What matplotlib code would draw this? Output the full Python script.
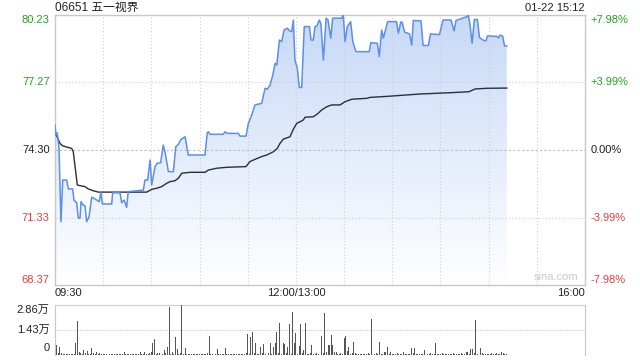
import numpy as np
import matplotlib
matplotlib.use('Agg')
import matplotlib.pyplot as plt
from matplotlib.patches import Polygon

plt.rcParams['font.family'] = ['Liberation Sans', 'Noto Sans CJK SC', 'DejaVu Sans']

# minutes since 09:30 (lunch break removed, 13:00 = 150)
price_t = [0, 0.6, 1.4, 2.5, 3.7, 4.8, 7.3, 8.3, 11.0, 11.8, 13.5, 14.5, 15.6, 16.2, 17.6, 18.7, 19.7, 21.2,
           22.9, 24.9, 27.6, 28.6, 29.5, 35.3, 35.9, 40.5, 41.5, 43.0, 44.6, 45.6, 49.8, 55.0, 56.0, 57.7,
           59.2, 60.2, 62.3, 63.7, 65.8, 67.4, 68.5, 70.6, 73.7, 75.2, 76.8, 78.5, 81.0, 83.0, 93.4, 94.8,
           95.5, 96.5, 104.8, 105.9, 107.3, 114.1, 115.2, 118.9, 120.4, 122.5, 124.5, 128.7, 130.8, 132.2,
           133.9, 135.6, 137.0, 138.1, 139.7, 141.2, 142.6, 144.7, 145.9, 147.4, 148.4, 149.4, 150.9, 152.1,
           153.6, 155.2, 158.4, 159.4, 160.8, 161.9, 163.0, 164.6, 165.6, 167.1, 168.8, 170.0, 171.7, 172.9,
           178.5, 179.5, 180.6, 182.0, 184.1, 185.4, 187.4, 195.7, 196.6, 200.7, 201.9, 203.4, 204.5, 207.1,
           212.6, 213.8, 215.3, 216.1, 217.7, 220.7, 222.1, 223.1, 227.9, 229.2, 232.5, 233.8, 239.4, 241.6,
           246.6, 248.5, 249.7, 256.6, 257.4, 258.4, 259.7, 261.1, 263.0, 264.3, 266.7, 268.4, 269.2, 275.2,
           276.0, 277.1, 278.8, 279.9, 281.3]
price = [75.40, 74.96, 75.05, 74.39, 71.15, 72.98, 72.98, 72.59, 72.59, 72.10, 71.98, 71.31, 71.31, 72.03,
         71.88, 71.84, 71.15, 71.37, 72.23, 72.15, 72.03, 72.47, 71.93, 71.93, 72.42, 72.42, 71.98, 72.10,
         71.78, 72.47, 72.50, 72.54, 72.98, 72.98, 73.86, 72.76, 73.57, 73.72, 73.74, 74.52, 74.22, 73.35,
         73.35, 74.44, 74.55, 74.77, 74.88, 74.08, 74.08, 75.06, 75.10, 74.99, 74.99, 75.10, 75.03, 75.03,
         74.91, 74.91, 75.47, 75.84, 76.28, 76.35, 77.01, 76.97, 77.15, 77.59, 78.11, 78.03, 79.13, 79.06,
         79.57, 79.65, 79.54, 79.50, 80.01, 78.25, 77.89, 77.05, 77.05, 79.72, 79.72, 79.13, 79.13, 79.72,
         79.75, 80.01, 79.83, 78.25, 80.09, 80.01, 79.21, 80.09, 80.09, 80.23, 79.06, 79.72, 79.94, 79.06,
         78.62, 78.62, 79.01, 78.99, 78.40, 79.57, 79.22, 79.94, 79.94, 79.43, 79.92, 79.92, 79.48, 79.40,
         78.91, 79.99, 79.97, 78.89, 78.89, 79.40, 79.37, 80.01, 80.01, 79.53, 79.99, 80.16, 80.23, 79.79,
         78.99, 80.03, 80.03, 79.24, 79.12, 79.10, 79.31, 79.29, 79.22, 79.35, 79.29, 78.87, 78.87]

avg_t = [0, 1.1, 3.1, 4.8, 10.4, 11.4, 12.5, 13.9, 16.6, 18.7, 20.7, 23.8, 27.0, 57.1, 60.2, 63.3, 66.4,
         69.6, 71.6, 74.7, 76.8, 78.9, 84.1, 93.4, 95.5, 100.7, 106.9, 118.9, 121.4, 124.5, 128.7, 131.8,
         135.9, 138.4, 140.1, 142.2, 146.3, 148.4, 150.5, 152.6, 154.6, 155.7, 160.8, 163.3, 166.1, 169.2,
         172.3, 177.5, 180.6, 184.8, 194.1, 196.1, 209.7, 227.3, 247.0, 257.8, 261.5, 268.8, 281.3]
avg_price = [75.10, 74.91, 74.59, 74.48, 74.37, 74.22, 73.57, 72.76, 72.72, 72.69, 72.59, 72.51, 72.45,
             72.45, 72.57, 72.62, 72.69, 72.84, 72.91, 72.95, 73.06, 73.28, 73.32, 73.32, 73.42, 73.50,
             73.54, 73.57, 73.79, 73.89, 74.01, 74.08, 74.22, 74.37, 74.59, 74.78, 74.88, 75.21, 75.47,
             75.54, 75.62, 75.74, 75.76, 75.88, 76.06, 76.20, 76.28, 76.28, 76.42, 76.53, 76.57, 76.61,
             76.67, 76.76, 76.82, 76.86, 76.98, 77.01, 77.02]

# volume per minute, in hundreds of shares
volume = [60, 55, 12, 45, 10, 8, 6, 5, 8, 6,
          5, 6, 8, 67, 194, 19, 12, 8, 29, 10,
          25, 8, 6, 42, 10, 6, 19, 8, 10, 6,
          5, 4, 6, 5, 4, 8, 5, 4, 6, 5,
          6, 5, 4, 15, 6, 5, 8, 6, 5, 4,
          6, 5, 8, 20, 6, 5, 15, 8, 6, 10,
          20, 67, 92, 8, 10, 12, 6, 8, 30, 10,
          48, 276, 8, 19, 6, 105, 32, 8, 10, 286,
          8, 38, 6, 5, 4, 6, 5, 6, 4, 5,
          5, 4, 6, 5, 8, 10, 109, 8, 6, 5,
          6, 32, 5, 4, 6, 5, 38, 6, 5, 4,
          5, 6, 5, 4, 8, 5, 6, 4, 5, 10,
          118, 8, 105, 130, 10, 67, 8, 6, 48, 10,
          61, 8, 6, 10, 70, 8, 48, 70, 130, 10,
          181, 8, 67, 61, 10, 48, 175, 8, 244, 67,
          124, 8, 50, 175, 10, 29, 181, 8, 6, 10,
          57, 8, 6, 10, 8, 92, 109, 10, 238, 19,
          57, 57, 114, 57, 19, 19, 8, 6, 10, 8,
          95, 110, 25, 48, 8, 10, 76, 13, 8, 6,
          5, 6, 8, 5, 6, 10, 8, 206, 8, 6,
          10, 8, 76, 6, 8, 19, 19, 48, 6, 19,
          6, 5, 8, 10, 6, 5, 8, 15, 6, 5,
          8, 6, 38, 10, 38, 6, 8, 5, 6, 8,
          29, 6, 5, 8, 10, 6, 8, 70, 6, 5,
          8, 10, 6, 5, 8, 6, 5, 8, 10, 6,
          5, 8, 6, 10, 8, 6, 19, 19, 8, 34,
          32, 10, 200, 8, 12, 38, 10, 8, 6, 5,
          8, 6, 10, 5, 8, 12, 6, 8, 15, 10,
          8, 6]

price_levels = [80.23, 77.27, 74.30, 71.33, 68.37]
pct_labels = ['+7.98%', '+3.99%', '0.00%', '-3.99%', '-7.98%']
level_colors = ['#1fa51f', '#1fa51f', '#222222', '#f03a3a', '#f03a3a']
vol_max = 28600
vol_labels = ['2.86万', '1.43万', '0']

grid_c = '#cfcfcf'
border_c = '#c8c8c8'

fig = plt.figure(figsize=(6.4, 3.6), dpi=100)
ax = fig.add_axes([55/640, 1 - 285/360, 530/640, 270/360])
axv = fig.add_axes([55/640, 1 - 355/360, 530/640, 50/360])

ax.set_xlim(0, 330)
ax.set_ylim(price_levels[-1], price_levels[0])

# gradient fill under the price line
ylo, yhi = price_levels[-1], price_levels[0]
verts = [(price_t[0], ylo)] + list(zip(price_t, price)) + [(price_t[-1], ylo)]
poly = Polygon(verts, closed=True, facecolor='none', edgecolor='none')
ax.add_patch(poly)
grad = np.linspace(1, 0, 256).reshape(-1, 1)
top_c = np.array([0.78, 0.85, 0.97])
img = np.ones((256, 1, 3)) * (1 - grad[..., None]) + top_c * grad[..., None]
im = ax.imshow(img, extent=[0, 330, ylo, yhi], aspect='auto', zorder=1, origin='upper')
im.set_clip_path(poly)

for m in range(30, 330, 30):
    ax.axvline(m, color=grid_c, lw=0.8, ls=(0, (1, 2)), zorder=2)
for lv in price_levels[1:-1]:
    if lv == 74.30:
        ax.axhline(lv, color='#bdbdbd', lw=0.8, ls=(0, (2, 2)), zorder=2)
    else:
        ax.axhline(lv, color=grid_c, lw=0.8, ls=(0, (1, 2)), zorder=2)

ax.plot(price_t, price, color='#5b8fe8', lw=1.1, zorder=4)
ax.plot(avg_t, avg_price, color='#2b2f3a', lw=1.0, zorder=3)

ax.set_xticks([])
ax.set_yticks([])
for s in ax.spines.values():
    s.set_color(border_c)
    s.set_linewidth(1)

# y labels on both sides
for i, lv in enumerate(price_levels):
    va = 'center'
    if i == 0:
        va = 'top'
    elif i == len(price_levels) - 1:
        va = 'bottom'
    ax.text(-0.01, lv, f'{lv:.2f}', transform=ax.get_yaxis_transform(), ha='right', va=va,
            fontsize=8, color=level_colors[i])
    ax.text(1.01, lv, pct_labels[i], transform=ax.get_yaxis_transform(), ha='left', va=va,
            fontsize=8, color=level_colors[i])

ax.text(0, -0.028, '09:30', transform=ax.transAxes, ha='left', va='center', fontsize=8, color='#222222')
ax.text(150 / 330, -0.028, '12:00/13:00', transform=ax.transAxes, ha='center', va='center', fontsize=8, color='#222222')
ax.text(1, -0.028, '16:00', transform=ax.transAxes, ha='right', va='center', fontsize=8, color='#222222')
ax.text(0.945, 0.01, 'sina.com', transform=ax.transAxes, ha='center', va='bottom', fontsize=8, color='#cccccc')

ax.text(0, 1.027, '06651 五一视界', transform=ax.transAxes, ha='left', va='center', fontsize=8.5, color='#222222')
ax.text(1, 1.027, '01-22 15:12', transform=ax.transAxes, ha='right', va='center', fontsize=8, color='#222222')

# volume panel
vol = np.array(volume) * 100
axv.bar(np.arange(len(vol)), vol, width=0.6, color='#555555', zorder=3)
axv.set_xlim(0, 330)
axv.set_ylim(0, vol_max)
axv.axhline(vol_max / 2, color=grid_c, lw=0.8, ls=(0, (1, 1)), zorder=1)
axv.set_xticks([])
axv.set_yticks([])
for k in ['left', 'right']:
    axv.spines[k].set_color(border_c)
axv.spines['top'].set_color(grid_c)
axv.spines['top'].set_linestyle((0, (1, 1)))
axv.spines['bottom'].set_visible(False)

vt = axv.get_yaxis_transform()
axv.text(-0.01, vol_max, vol_labels[0], transform=vt, ha='right', va='top', fontsize=8, color='#222222')
axv.text(-0.01, vol_max / 2, vol_labels[1], transform=vt, ha='right', va='center', fontsize=8, color='#222222')
axv.text(-0.01, 1400, vol_labels[2], transform=vt, ha='right', va='bottom', fontsize=8, color='#222222')

plt.savefig('out.png', dpi=100)
